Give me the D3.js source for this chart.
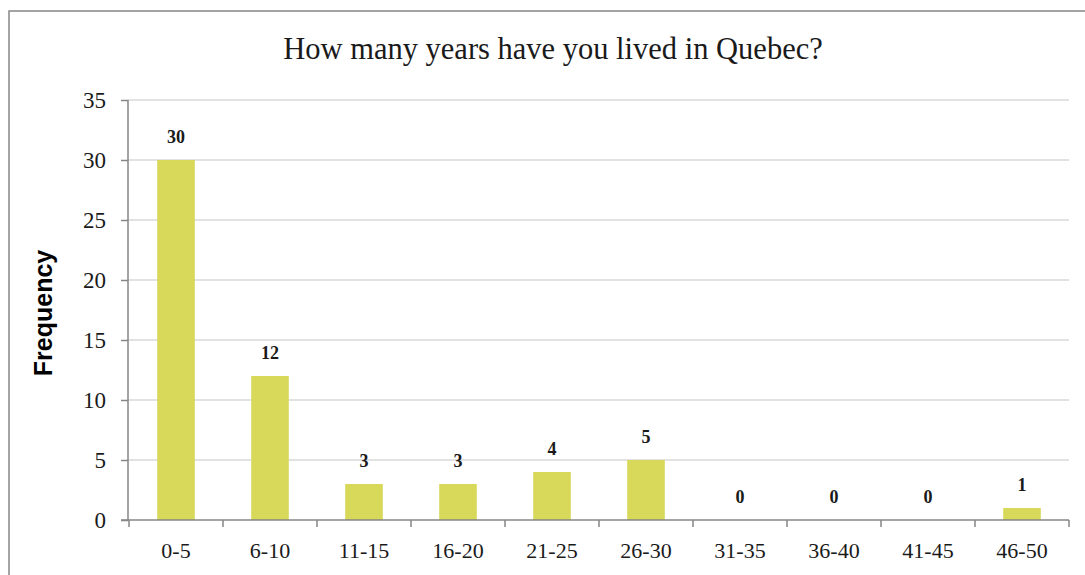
<!DOCTYPE html>
<meta charset="utf-8">
<style>
body { margin: 0; background: #fff; }
.grid line { stroke: #d9d9d9; stroke-width: 1.5px; }
.axis path, .axis line { stroke: #868686; stroke-width: 1.5px; }
.axis text { font-family: "Liberation Serif", serif; font-size: 22px; fill: #1a1a1a; }
.ytk text { font-size: 23px; }
.lbl { font-family: "Liberation Serif", serif; font-size: 18px; font-weight: bold; fill: #1a1a1a; text-anchor: middle; }
</style>
<body>
<script src="https://d3js.org/d3.v7.min.js"></script>
<script>
// chart data
var categories = ["0-5", "6-10", "11-15", "16-20", "21-25", "26-30", "31-35", "36-40", "41-45", "46-50"];
var counts = [30, 12, 3, 3, 4, 5, 0, 0, 0, 1];
var yTicks = [0, 5, 10, 15, 20, 25, 30, 35];

var W = 1085, H = 575;
var margin = {top: 100, left: 128, right: 16, bottom: 55};
var width = W - margin.left - margin.right,
    height = H - margin.top - margin.bottom;

var svg = d3.select("body").append("svg")
    .attr("width", W).attr("height", H);

// outer frame
svg.append("rect")
    .attr("x", 9).attr("y", 11)
    .attr("width", W + 10).attr("height", H + 10)
    .attr("fill", "none").attr("stroke", "#868686").attr("stroke-width", 1.5);

svg.append("text")
    .attr("x", 553).attr("y", 59)
    .attr("text-anchor", "middle")
    .style("font-family", "Liberation Serif, serif")
    .style("font-size", "30.5px")
    .style("fill", "#1a1a1a")
    .text("How many years have you lived in Quebec?");

var g = svg.append("g")
    .attr("transform", "translate(" + margin.left + "," + margin.top + ")");

var x = d3.scaleBand().domain(categories).range([1, width]).paddingInner(0.6).paddingOuter(0.3);
var y = d3.scaleLinear().domain([0, 35]).range([height, 0]);

// gridlines
g.append("g").attr("class", "grid")
  .selectAll("line").data(yTicks.slice(1)).join("line")
    .attr("x1", 0).attr("x2", width)
    .attr("y1", function(d) { return y(d); })
    .attr("y2", function(d) { return y(d); });

// bars
g.selectAll(".bar").data(counts).join("rect")
    .attr("class", "bar")
    .attr("x", function(d, i) { return x(categories[i]); })
    .attr("width", x.bandwidth())
    .attr("y", function(d) { return y(d); })
    .attr("height", function(d) { return height - y(d); })
    .attr("fill", "#d8d85a");

// value labels
g.selectAll(".lbl").data(counts).join("text")
    .attr("class", "lbl")
    .attr("x", function(d, i) { return x(categories[i]) + x.bandwidth() / 2; })
    .attr("y", function(d) { return y(d) - 17; })
    .text(function(d) { return d; });

// y axis
g.append("g").attr("class", "axis ytk")
    .call(d3.axisLeft(y).tickValues(yTicks).tickSize(7).tickSizeOuter(0).tickPadding(15))
    .call(function(a) { a.select(".domain").attr("d", "M0," + y(35) + "V" + height); });

// x axis with ticks between categories
var xb = d3.scaleLinear().domain([0, categories.length]).range([1, width]);
var xa = g.append("g").attr("class", "axis")
    .attr("transform", "translate(0," + height + ")");
xa.append("line").attr("x1", -7).attr("x2", width).attr("y1", 0).attr("y2", 0);
xa.selectAll(".tk").data(d3.range(categories.length + 1)).join("line")
    .attr("class", "tk")
    .attr("x1", function(d) { return xb(d); }).attr("x2", function(d) { return xb(d); })
    .attr("y1", 0).attr("y2", 7);
xa.selectAll("text").data(categories).join("text")
    .attr("x", function(d) { return x(d) + x.bandwidth() / 2; })
    .attr("y", 38)
    .attr("text-anchor", "middle")
    .text(function(d) { return d; });

svg.append("text")
    .attr("transform", "translate(52,313) rotate(-90)")
    .attr("text-anchor", "middle")
    .style("font-family", "Liberation Sans, Arial, sans-serif")
    .style("font-weight", "bold")
    .style("font-size", "25px")
    .style("fill", "#000")
    .text("Frequency");
</script>
</body>
